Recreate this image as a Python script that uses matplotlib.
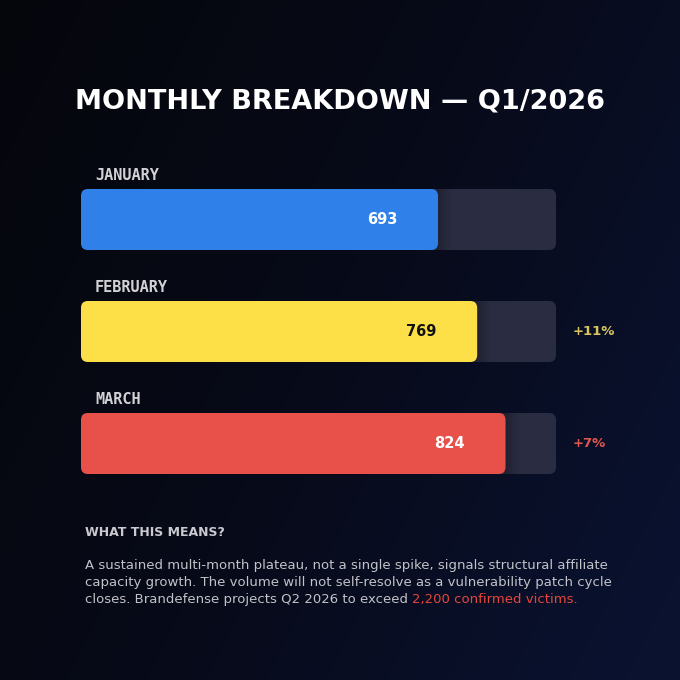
import numpy as np
import matplotlib.pyplot as plt
import matplotlib.transforms as mtransforms
from matplotlib.patches import FancyBboxPatch, Rectangle
from matplotlib.colors import LinearSegmentedColormap

months = ["JANUARY", "FEBRUARY", "MARCH"]
values = [693, 769, 824]
changes = ["", "+11%", "+7%"]
bar_colors = ["#2f80e8", "#fde047", "#e8504a"]
value_colors = ["white", "#111111", "white"]
change_colors = ["#d8c45e", "#d8c45e", "#e0574d"]
scale_max = 922

title = "MONTHLY BREAKDOWN \u2014 Q1/2026"
note_head = "WHAT THIS MEANS?"
note_lines = [
    "A sustained multi-month plateau, not a single spike, signals structural affiliate",
    "capacity growth. The volume will not self-resolve as a vulnerability patch cycle",
    "closes. Brandefense projects Q2 2026 to exceed ",
]
note_red = "2,200 confirmed victims."

W = H = 680
fig = plt.figure(figsize=(6.8, 6.8), dpi=100)

# background gradient
bg = fig.add_axes([0, 0, 1, 1])
yy, xx = np.mgrid[0:1:200j, 0:1:200j]
g = np.clip(0.7 * xx + 0.35 * yy, 0, 1)
cmap = LinearSegmentedColormap.from_list("bg", ["#05060c", "#070a18", "#0a1230"])
bg.imshow(g, cmap=cmap, extent=[0, W, H, 0], aspect="auto", interpolation="bicubic")
bg.set_xlim(0, W)
bg.set_ylim(H, 0)
bg.axis("off")

# bars axes: x in data units, y in row index
left_px, right_px = 81, 556
top_px, bot_px = 163.5, 499.5
ax = fig.add_axes([left_px / W, 1 - bot_px / H, (right_px - left_px) / W, (bot_px - top_px) / H])
ax.set_xlim(0, scale_max)
ax.set_ylim(2.5, -0.5)
ax.axis("off")
ax.patch.set_alpha(0)

px_x = scale_max / (right_px - left_px)   # data units per px (x)
px_y = 3 / (bot_px - top_px)              # data units per px (y)
r = 7
bh = 61 * px_y
aspect = px_y / px_x

for i, (m, v) in enumerate(zip(months, values)):
    y0 = i - bh / 2
    track = FancyBboxPatch((0, y0), scale_max, bh,
                           boxstyle=f"round,pad=0,rounding_size={r * px_x}",
                           mutation_aspect=aspect, fc="#2a2d42", ec="none", zorder=1)
    ax.add_patch(track)
    # soft shadow after bar end
    for k in range(16):
        ax.add_patch(Rectangle((v - 2 * px_x + k * px_x, y0), px_x, bh, fc="black",
                               alpha=0.25 * (1 - k / 16), ec="none", zorder=2))
    bar = FancyBboxPatch((0, y0), v, bh,
                         boxstyle=f"round,pad=0,rounding_size={r * px_x}",
                         mutation_aspect=aspect, fc=bar_colors[i], ec="none", zorder=3)
    ax.add_patch(bar)
    ax.text(v - 41 * px_x, i, str(v), ha="right", va="center", color=value_colors[i],
            fontsize=10.5, fontweight="bold", family="DejaVu Sans", zorder=4)
    ax.text(14 * px_x, y0 - 14 * px_y, m, ha="left", va="center", color="#d2d2d6",
            fontsize=11, fontweight="bold", family="DejaVu Sans Mono", zorder=4)
    if changes[i]:
        ax.text(scale_max + 17 * px_x, i, changes[i], ha="left", va="center",
                color=change_colors[i], fontsize=9.5, fontweight="bold",
                family="DejaVu Sans", zorder=4)

# title
bg.text(W / 2, 101, title, ha="center", va="center", color="white",
        fontsize=19.5, fontweight="heavy", family="DejaVu Sans")

# note
bg.text(85, 532, note_head, ha="left", va="center", color="#c9c9cf",
        fontsize=9, fontweight="bold", family="DejaVu Sans")
for j, line in enumerate(note_lines):
    t = bg.text(85, 566 + j * 16.5, line, ha="left", va="center", color="#c2c2c8",
                fontsize=9.55, family="DejaVu Sans")
fig.canvas.draw()
x_end = t.get_window_extent().x1
bg.text(x_end, 566 + 2 * 16.5, note_red, ha="left", va="center", color="#e5463c",
        fontsize=9.55, family="DejaVu Sans",
        transform=mtransforms.blended_transform_factory(
            mtransforms.IdentityTransform(), bg.transData))

fig.savefig("out.png", dpi=100)
